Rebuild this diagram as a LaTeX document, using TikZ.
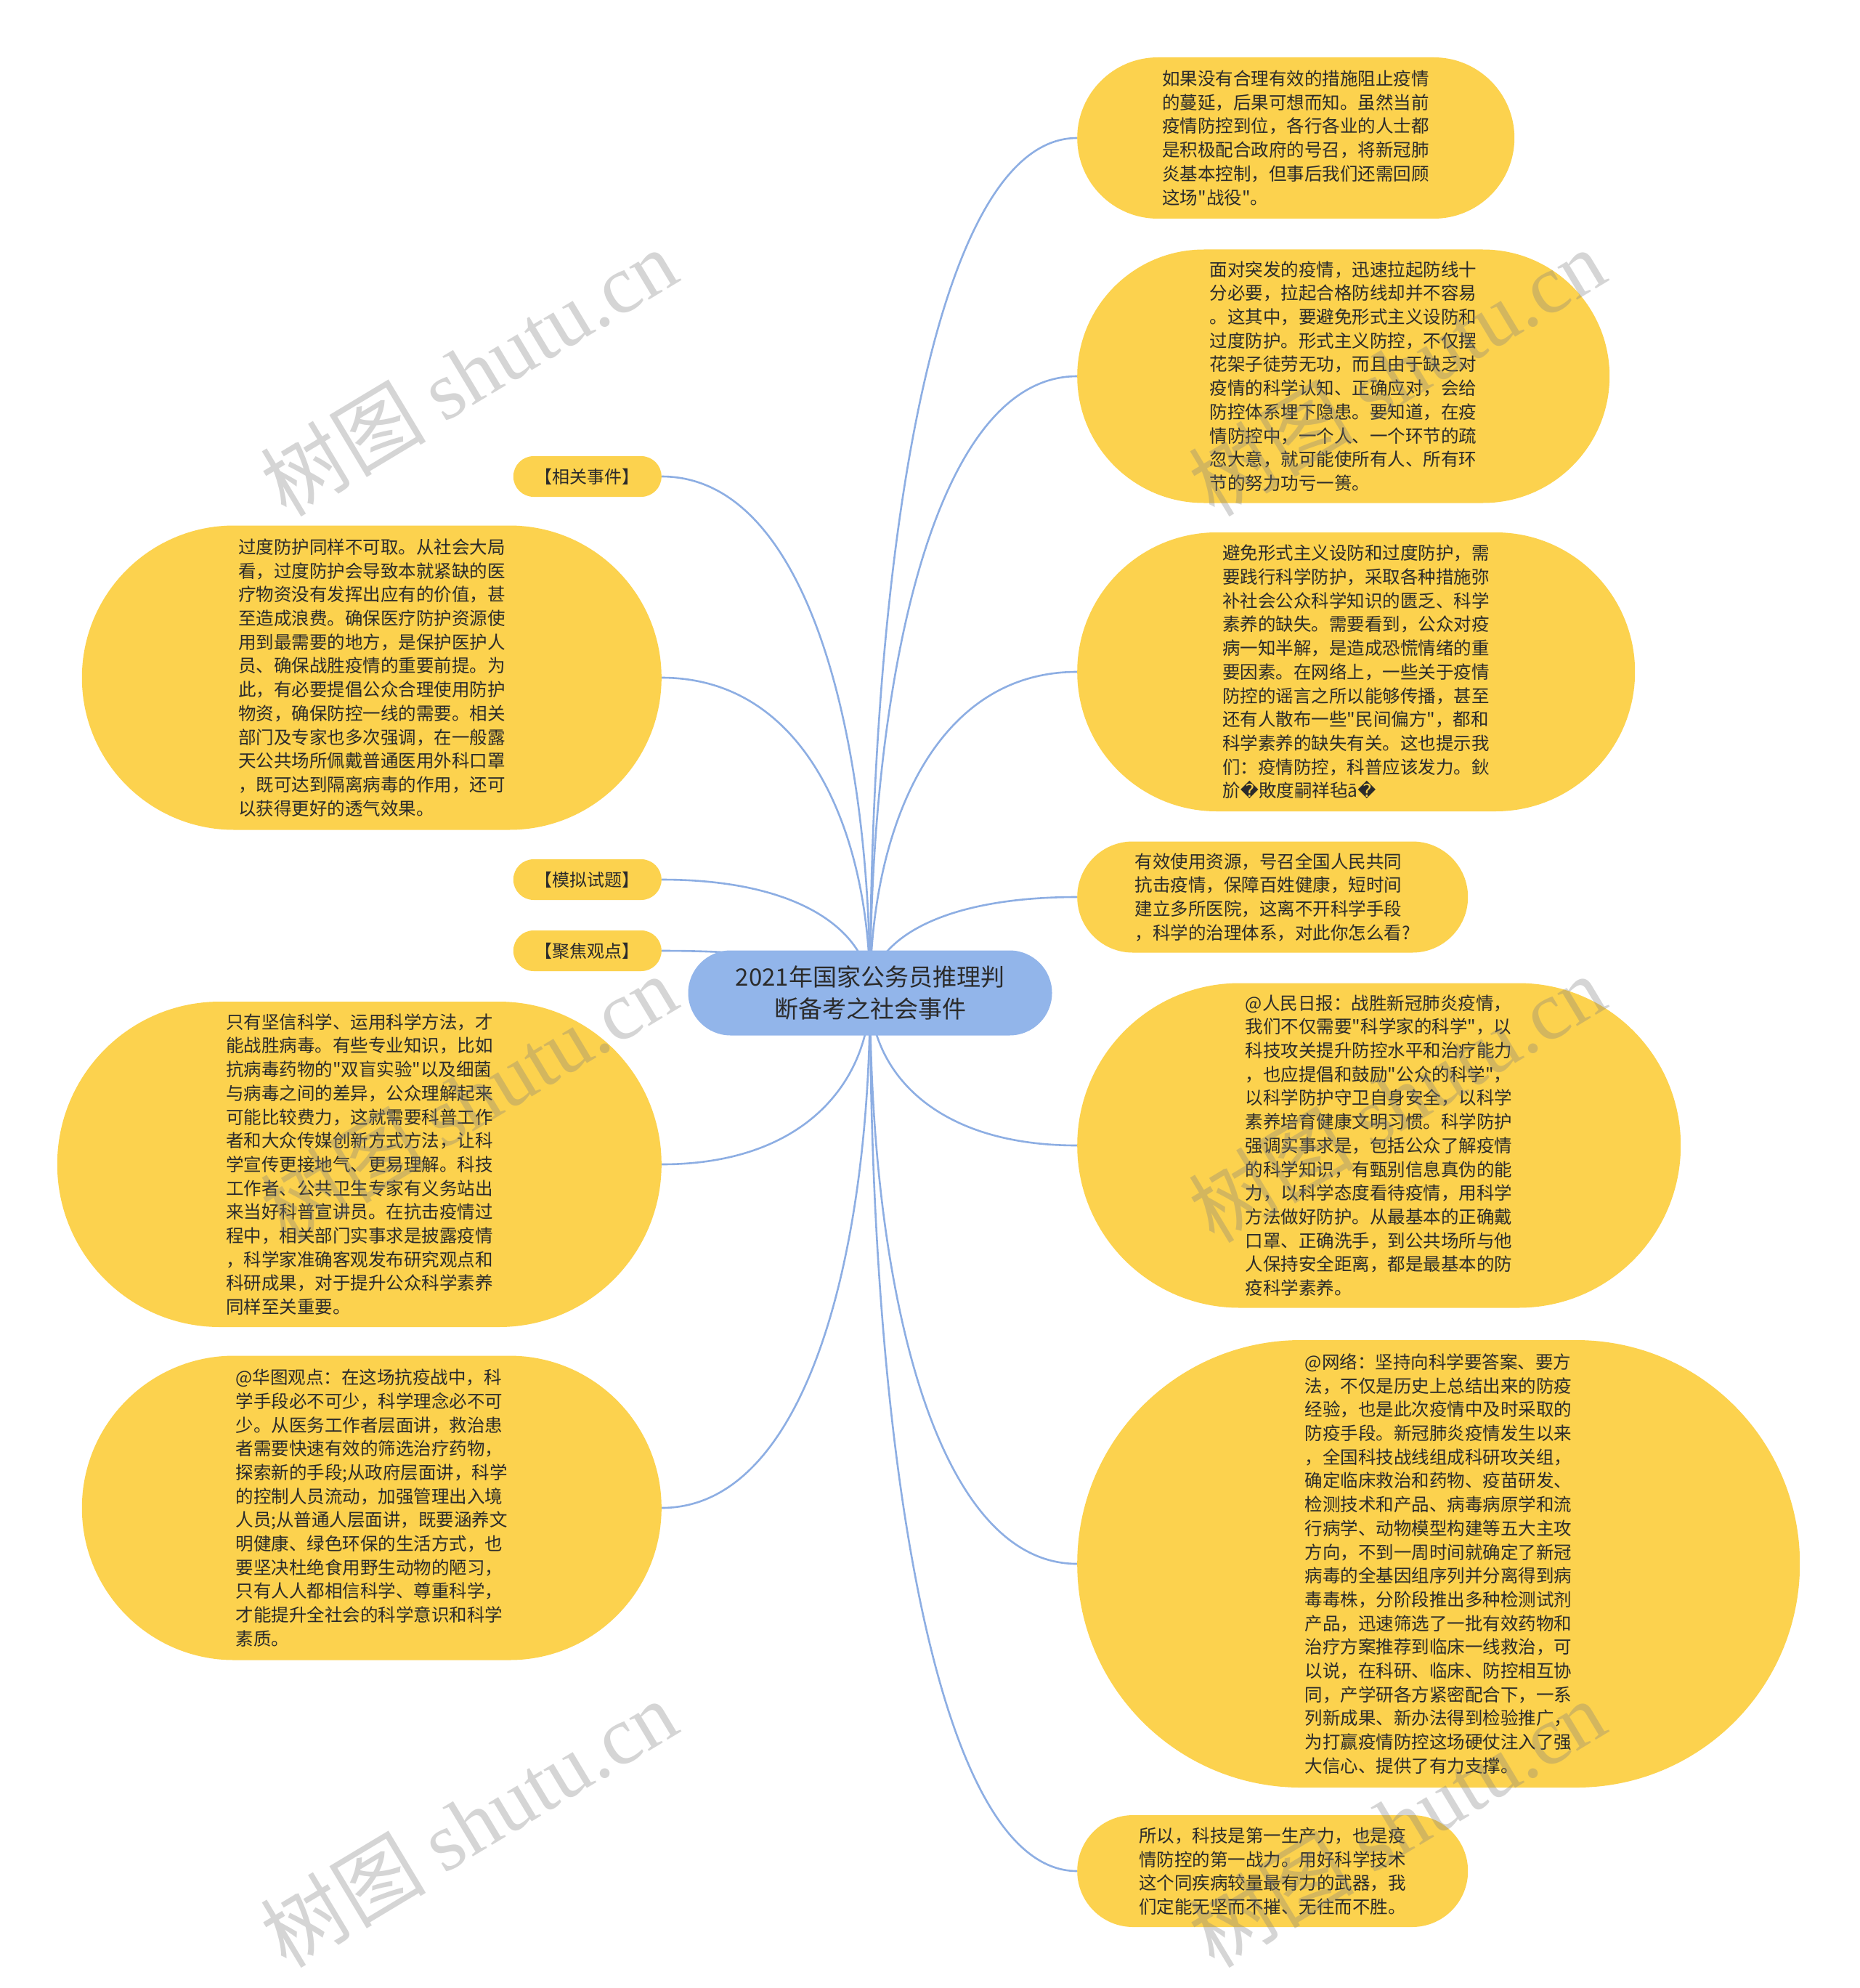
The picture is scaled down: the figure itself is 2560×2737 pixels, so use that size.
\documentclass[tikz,border=0pt]{standalone}
\usepackage{fontspec}
\setmainfont{Noto Sans CJK SC}[Ligatures=TeXOff]
\newfontfamily\wmlatin{Liberation Serif}
\newfontfamily\replfont{DejaVu Sans}
\usetikzlibrary{shapes.misc,calc,backgrounds}
\definecolor{mmyellow}{HTML}{FCD24E}
\definecolor{mmblue}{HTML}{92B5EA}
\definecolor{mmline}{HTML}{8DAEE3}
\definecolor{mmtext}{HTML}{2B2B2B}

\begin{document}
\begin{tikzpicture}[
  x=1pt, y=-1pt,
  leaf/.style={shape=rounded rectangle, fill=mmyellow, text=mmtext, align=left,
               inner sep=0pt, font=\fontsize{24.5}{32.7}\selectfont},
  tag/.style={leaf, minimum width=204pt, minimum height=56pt,
              font=\fontsize{24}{28}\selectfont},
  root/.style={shape=rounded rectangle, fill=mmblue, text=mmtext, align=center,
               inner sep=0pt, minimum width=501pt, minimum height=117pt,
               font=\fontsize{33}{44}\selectfont},
  link/.style={draw=mmline, line width=2.6pt,
    to path={.. controls ($(\tikztostart)!0.5!(\tikztostart |- \tikztotarget)$)
               and ($(\tikztostart |- \tikztotarget)!0.3!(\tikztotarget)$) .. (\tikztotarget)}},
  wmark/.style={text=black!50, opacity=0.33, rotate=31,
                font=\fontsize{114}{114}\selectfont},
]
\useasboundingbox (0,0) rectangle (2560,2737);

%% ---- Tema central ----
\node[root] (root) at (1198,1367) {2021年国家公务员推理判\\断备考之社会事件};

%% ---- Rama derecha ----
\node[leaf, anchor=west, minimum width=602pt, minimum height=222pt] (r1) at (1483,190)
  {如果没有合理有效的措施阻止疫情\\
   的蔓延，后果可想而知。虽然当前\\
   疫情防控到位，各行各业的人士都\\
   是积极配合政府的号召，将新冠肺\\
   炎基本控制，但事后我们还需回顾\\
   这场"战役"。};
\node[leaf, anchor=west, minimum width=733pt, minimum height=349pt] (r2) at (1483,518)
  {面对突发的疫情，迅速拉起防线十\\
   分必要，拉起合格防线却并不容易\\
   。这其中，要避免形式主义设防和\\
   过度防护。形式主义防控，不仅摆\\
   花架子徒劳无功，而且由于缺乏对\\
   疫情的科学认知、正确应对，会给\\
   防控体系埋下隐患。要知道，在疫\\
   情防控中，一个人、一个环节的疏\\
   忽大意，就可能使所有人、所有环\\
   节的努力功亏一篑。};
\node[leaf, anchor=west, minimum width=768pt, minimum height=384pt] (r3) at (1483,925)
  {避免形式主义设防和过度防护，需\\
   要践行科学防护，采取各种措施弥\\
   补社会公众科学知识的匮乏、科学\\
   素养的缺失。需要看到，公众对疫\\
   病一知半解，是造成恐慌情绪的重\\
   要因素。在网络上，一些关于疫情\\
   防控的谣言之所以能够传播，甚至\\
   还有人散布一些"民间偏方"，都和\\
   科学素养的缺失有关。这也提示我\\
   们：疫情防控，科普应该发力。鈥\\
   斺{\replfont �}敗度嗣祥毡ā{\replfont �}};
\node[leaf, anchor=west, minimum width=538pt, minimum height=153pt] (r4) at (1483,1235)
  {有效使用资源，号召全国人民共同\\
   抗击疫情，保障百姓健康，短时间\\
   建立多所医院，这离不开科学手段\\
   ，科学的治理体系，对此你怎么看?};
\node[leaf, anchor=west, minimum width=831pt, minimum height=447pt] (r5) at (1483,1577)
  {@人民日报：战胜新冠肺炎疫情，\\
   我们不仅需要"科学家的科学"，以\\
   科技攻关提升防控水平和治疗能力\\
   ，也应提倡和鼓励"公众的科学"，\\
   以科学防护守卫自身安全，以科学\\
   素养培育健康文明习惯。科学防护\\
   强调实事求是，包括公众了解疫情\\
   的科学知识，有甄别信息真伪的能\\
   力，以科学态度看待疫情，用科学\\
   方法做好防护。从最基本的正确戴\\
   口罩、正确洗手，到公共场所与他\\
   人保持安全距离，都是最基本的防\\
   疫科学素养。};
\node[leaf, anchor=west, minimum width=995pt, minimum height=616pt] (r6) at (1483,2153)
  {@网络：坚持向科学要答案、要方\\
   法，不仅是历史上总结出来的防疫\\
   经验，也是此次疫情中及时采取的\\
   防疫手段。新冠肺炎疫情发生以来\\
   ，全国科技战线组成科研攻关组，\\
   确定临床救治和药物、疫苗研发、\\
   检测技术和产品、病毒病原学和流\\
   行病学、动物模型构建等五大主攻\\
   方向，不到一周时间就确定了新冠\\
   病毒的全基因组序列并分离得到病\\
   毒毒株，分阶段推出多种检测试剂\\
   产品，迅速筛选了一批有效药物和\\
   治疗方案推荐到临床一线救治，可\\
   以说，在科研、临床、防控相互协\\
   同，产学研各方紧密配合下，一系\\
   列新成果、新办法得到检验推广，\\
   为打赢疫情防控这场硬仗注入了强\\
   大信心、提供了有力支撑。};
\node[leaf, anchor=west, minimum width=538pt, minimum height=154pt] (r7) at (1483,2576)
  {所以，科技是第一生产力，也是疫\\
   情防控的第一战力。用好科学技术\\
   这个同疾病较量最有力的武器，我\\
   们定能无坚而不摧、无往而不胜。};

%% ---- Rama izquierda ----
\node[tag, anchor=east] (t1) at (911,656)  {【相关事件】};
\node[tag, anchor=east] (t2) at (911,1211) {【模拟试题】};
\node[tag, anchor=east] (t3) at (911,1309) {【聚焦观点】};
\node[leaf, anchor=east, minimum width=798pt, minimum height=419pt] (l1) at (911,933)
  {过度防护同样不可取。从社会大局\\
   看，过度防护会导致本就紧缺的医\\
   疗物资没有发挥出应有的价值，甚\\
   至造成浪费。确保医疗防护资源使\\
   用到最需要的地方，是保护医护人\\
   员、确保战胜疫情的重要前提。为\\
   此，有必要提倡公众合理使用防护\\
   物资，确保防控一线的需要。相关\\
   部门及专家也多次强调，在一般露\\
   天公共场所佩戴普通医用外科口罩\\
   ，既可达到隔离病毒的作用，还可\\
   以获得更好的透气效果。};
\node[leaf, anchor=east, minimum width=832pt, minimum height=448pt] (l2) at (911,1603)
  {只有坚信科学、运用科学方法，才\\
   能战胜病毒。有些专业知识，比如\\
   抗病毒药物的"双盲实验"以及细菌\\
   与病毒之间的差异，公众理解起来\\
   可能比较费力，这就需要科普工作\\
   者和大众传媒创新方式方法，让科\\
   学宣传更接地气、更易理解。科技\\
   工作者、公共卫生专家有义务站出\\
   来当好科普宣讲员。在抗击疫情过\\
   程中，相关部门实事求是披露疫情\\
   ，科学家准确客观发布研究观点和\\
   科研成果，对于提升公众科学素养\\
   同样至关重要。};
\node[leaf, anchor=east, minimum width=798pt, minimum height=419pt] (l3) at (911,2076)
  {@华图观点：在这场抗疫战中，科\\
   学手段必不可少，科学理念必不可\\
   少。从医务工作者层面讲，救治患\\
   者需要快速有效的筛选治疗药物，\\
   探索新的手段;从政府层面讲，科学\\
   的控制人员流动，加强管理出入境\\
   人员;从普通人层面讲，既要涵养文\\
   明健康、绿色环保的生活方式，也\\
   要坚决杜绝食用野生动物的陋习，\\
   只有人人都相信科学、尊重科学，\\
   才能提升全社会的科学意识和科学\\
   素质。};

%% ---- Conectores (detrás de los nodos) ----
\begin{scope}[on background layer]
  \fill[white] (0,0) rectangle (2560,2737);
  \draw[link] (root.center) to (r1.west);
  \draw[link] (root.center) to (r2.west);
  \draw[link] (root.center) to (r3.west);
  \draw[link] (root.center) to (r4.west);
  \draw[link] (root.center) to (r5.west);
  \draw[link] (root.center) to (r6.west);
  \draw[link] (root.center) to (r7.west);
  \draw[link] (root.center) to (t1.east);
  \draw[link] (root.center) to (l1.east);
  \draw[link] (root.center) to (t2.east);
  \draw[link] (root.center) to (t3.east);
  \draw[link] (root.center) to (l2.east);
  \draw[link] (root.center) to (l3.east);
\end{scope}

%% ---- Marca de agua ----
\node[wmark] (w1) at (645,512)   {树图 {\wmlatin shutu.cn}};
\node[wmark] (w2) at (1923,512)  {树图 {\wmlatin shutu.cn}};
\node[wmark] (w3) at (645,1512)  {树图 {\wmlatin shutu.cn}};
\node[wmark] (w4) at (1923,1512) {树图 {\wmlatin shutu.cn}};
\node[wmark] (w5) at (645,2510)  {树图 {\wmlatin shutu.cn}};
\node[wmark] (w6) at (1923,2510) {树图 {\wmlatin shutu.cn}};

\end{tikzpicture}
\end{document}
